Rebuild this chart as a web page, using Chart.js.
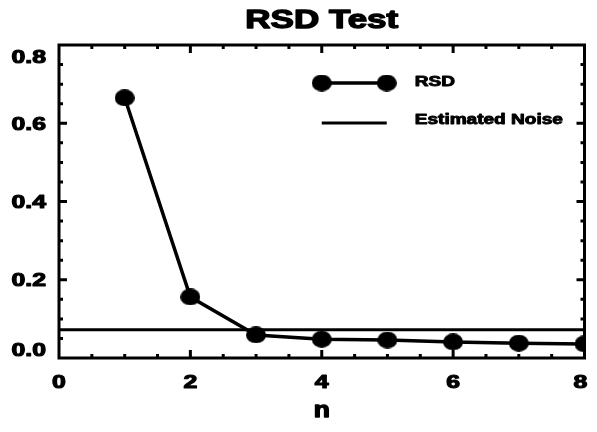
<!DOCTYPE html>
<html>
<head>
<meta charset="utf-8">
<title>RSD Test</title>
<script src="https://cdn.jsdelivr.net/npm/chart.js@4.4.0/dist/chart.umd.min.js"></script>
<style>
	html, body { margin: 0; padding: 0; background: #fff; }
	#wrap { width: 597px; height: 432px; }
</style>
</head>
<body>
<div id="wrap"><canvas id="rsdChart" width="597" height="432"></canvas></div>
<script>
// RSD per n, and the flat noise estimate
const nValues = [1, 2, 3, 4, 5, 6, 7, 8]
const rsdValues = [0.665, 0.156, 0.059, 0.048, 0.046, 0.041, 0.038, 0.036]
const noiseLevel = 0.072
const xTicks = [0, 2, 4, 6, 8]
const yTicks = [0.0, 0.2, 0.4, 0.6, 0.8]
const seriesLabels = ['RSD', 'Estimated Noise']
const chartTitle = 'RSD Test'
const xTitle = 'n'

const FONT = '"Liberation Sans", Arial, Helvetica, sans-serif'

// filled ellipse used as the point symbol
function ellipseMarker(w, h) {
	const c = document.createElement('canvas')
	c.width = w
	c.height = h
	const g = c.getContext('2d')
	g.fillStyle = '#000'
	g.beginPath()
	g.ellipse(w / 2, h / 2, w / 2, h / 2, 0, 0, Math.PI * 2)
	g.fill()
	return c
}
const marker = ellipseMarker(20, 17)

// heavy bold text, widened horizontally, placed by the middle of its cap height
function wideText(ctx, text, x, y, size, sx, align, capRatio, weight) {
	ctx.save()
	ctx.font = 'bold ' + size + 'px ' + FONT
	ctx.textAlign = align
	ctx.textBaseline = 'alphabetic'
	ctx.fillStyle = '#000'
	ctx.strokeStyle = '#000'
	ctx.lineJoin = 'round'
	ctx.lineWidth = weight || 1.1
	ctx.translate(x, y + (capRatio || 0.716) * size / 2)
	ctx.scale(sx, 1)
	ctx.fillText(text, 0, 0)
	ctx.strokeText(text, 0, 0)
	ctx.restore()
}

// box, inward ticks on all four sides, labels, title and legend
const framePlugin = {
	id: 'frame',
	afterDatasetsDraw(chart) {
		const ctx = chart.ctx
		const a = chart.chartArea
		const xs = chart.scales.x
		const ys = chart.scales.y
		ctx.save()
		ctx.strokeStyle = '#000'
		ctx.lineWidth = 3
		ctx.lineCap = 'butt'

		const xStep = (xTicks[1] - xTicks[0]) / 4
		const yStep = (yTicks[1] - yTicks[0]) / 4
		const nx = Math.round((xTicks[xTicks.length - 1] - xTicks[0]) / xStep)
		const ny = Math.round((yTicks[yTicks.length - 1] - yTicks[0]) / yStep)

		ctx.beginPath()
		for (let i = 1; i < nx; i++) {
			const px = xs.getPixelForValue(xTicks[0] + i * xStep)
			const len = i % 4 === 0 ? 8 : 4
			ctx.moveTo(px, a.bottom)
			ctx.lineTo(px, a.bottom - len)
			ctx.moveTo(px, a.top)
			ctx.lineTo(px, a.top + len)
		}
		for (let i = 1; i < ny; i++) {
			const py = ys.getPixelForValue(yTicks[0] + i * yStep)
			const len = i % 4 === 0 ? 8 : 4
			ctx.moveTo(a.left, py)
			ctx.lineTo(a.left + len, py)
			ctx.moveTo(a.right, py)
			ctx.lineTo(a.right - len, py)
		}
		ctx.stroke()
		ctx.strokeRect(a.left, a.top, a.right - a.left, a.bottom - a.top)
		ctx.restore()

		// tick labels
		yTicks.forEach(v => {
			let py = ys.getPixelForValue(v)
			py = Math.min(Math.max(py, a.top + 12), a.bottom - 8)
			wideText(ctx, v.toFixed(1), a.left - 13, py, 18, 1.38, 'right')
		})
		xTicks.forEach((v, i) => {
			let px = xs.getPixelForValue(v)
			if (i === xTicks.length - 1) px -= 4
			wideText(ctx, String(v), px, a.bottom + 24, 18, 1.38, 'center')
		})

		// titles
		wideText(ctx, chartTitle, (a.left + a.right) / 2, 19, 25, 1.4, 'center', 0.716, 1.3)
		wideText(ctx, xTitle, (a.left + a.right) / 2, a.bottom + 53, 22, 1.2, 'center', 0.52, 1.3)

		// legend
		const lx = (a.left + a.right) / 2
		const tx = lx + 93
		const rows = [a.top + 38, a.top + 78]
		const textShift = [-2, -4]
		chart.data.datasets.forEach((ds, i) => {
			const y = rows[i]
			ctx.save()
			ctx.strokeStyle = '#000'
			ctx.lineWidth = ds.borderWidth
			ctx.beginPath()
			ctx.moveTo(lx, y)
			ctx.lineTo(lx + 65, y)
			ctx.stroke()
			if (ds.pointRadius > 0) {
				ctx.drawImage(ds.pointStyle, lx - marker.width / 2, y - marker.height / 2)
				ctx.drawImage(ds.pointStyle, lx + 65 - marker.width / 2, y - marker.height / 2)
			}
			ctx.restore()
			wideText(ctx, ds.label, tx, y + textShift[i], 14, 1.36, 'left', 0.716, 0.9)
		})
	}
}

new Chart(document.getElementById('rsdChart'), {
	type: 'line',
	data: {
		datasets: [
			{
				label: seriesLabels[0],
				data: nValues.map((n, i) => ({x: n, y: rsdValues[i]})),
				borderColor: '#000',
				backgroundColor: '#000',
				borderWidth: 3.5,
				pointStyle: marker,
				pointRadius: 9,
				pointHoverRadius: 9,
				tension: 0,
				clip: 0,
			},
			{
				label: seriesLabels[1],
				data: [
					{x: xTicks[0], y: noiseLevel},
					{x: xTicks[xTicks.length - 1], y: noiseLevel},
				],
				borderColor: '#000',
				borderWidth: 3,
				pointRadius: 0,
				pointHoverRadius: 0,
				tension: 0,
				clip: 0,
			},
		],
	},
	options: {
		responsive: false,
		animation: false,
		events: [],
		layout: {
			padding: {left: 59, right: 7, top: 45, bottom: 74},
		},
		plugins: {
			legend: {display: false},
			title: {display: false},
			tooltip: {enabled: false},
		},
		scales: {
			x: {
				type: 'linear',
				display: false,
				min: xTicks[0],
				max: xTicks[xTicks.length - 1],
			},
			y: {
				type: 'linear',
				display: false,
				min: yTicks[0],
				max: yTicks[yTicks.length - 1],
			},
		},
	},
	plugins: [framePlugin],
})
</script>
</body>
</html>
